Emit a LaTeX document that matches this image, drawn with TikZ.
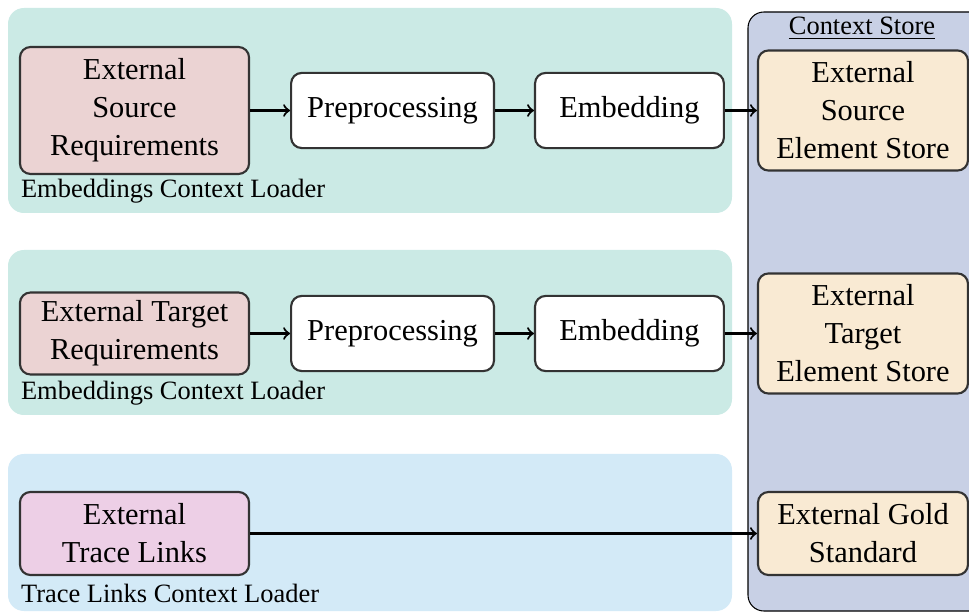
\documentclass[tikz,border=0pt]{standalone}
\usepackage{fontspec}
\setmainfont{Liberation Serif}
\usepackage{tikz}
\usetikzlibrary{positioning}

\definecolor{loaderbg}{HTML}{CBEAE5}
\definecolor{linkbg}{HTML}{D3EAF7}
\definecolor{storebg}{HTML}{C8D0E5}
\definecolor{reqfill}{HTML}{EBD3D3}
\definecolor{tracefill}{HTML}{EDCFE6}
\definecolor{elemfill}{HTML}{F9EAD3}

\tikzset{
  block/.style={draw=black!80, rounded corners=4pt, align=center, inner sep=2pt,
    font=\fontsize{11.5}{14.4}\selectfont},
  req/.style={block, fill=reqfill, minimum width=86.6pt},
  proc/.style={block, fill=white, minimum height=28.4pt},
  elem/.style={block, fill=elemfill, minimum width=79.4pt},
  loader/.style={rounded corners=6pt},
  caption/.style={font=\fontsize{10}{12}\selectfont, anchor=base west, inner sep=0pt}
}

\begin{document}
\begin{tikzpicture}[x=0.378pt,y=-0.378pt,>=to,thick]
  \clip (0,0) rectangle (969,613);

  \fill[loaderbg, loader] (8,8) rectangle (732,213);
  \fill[loaderbg, loader] (8,250) rectangle (732,415);
  \fill[linkbg, loader] (8,454) rectangle (732,611);
  \draw[thin, fill=storebg, rounded corners=6pt] (748,12) rectangle (995,611);

  \node[caption] (srccap) at (20,198) {Embeddings Context Loader};
  \node[caption] (tgtcap) at (20,400) {Embeddings Context Loader};
  \node[caption] (tracecap) at (20,602) {Trace Links Context Loader};
  \node[caption, anchor=base] (storecap) at (862,35) {\underline{Context Store}};

  \node[req, minimum height=48pt] (srcreq) at (134.5,110.5) {External\\Source\\Requirements};
  \node[proc, minimum width=76.7pt, right=15.1pt of srcreq] (srcpre) {Preprocessing};
  \node[proc, minimum width=71.4pt, right=14.7pt of srcpre] (srcemb) {Embedding};
  \node[elem, minimum height=45.4pt] (srcstore) at (863,110.5) {External\\Source\\Element Store};

  \node[req, minimum height=31pt] (tgtreq) at (134.5,333.5) {External Target\\Requirements};
  \node[proc, minimum width=76.7pt, right=15.1pt of tgtreq] (tgtpre) {Preprocessing};
  \node[proc, minimum width=71.4pt, right=14.7pt of tgtpre] (tgtemb) {Embedding};
  \node[elem, minimum height=45.4pt] (tgtstore) at (863,333.5) {External\\Target\\Element Store};

  \node[block, fill=tracefill, minimum width=86.6pt, minimum height=31.4pt] (trace) at (134.5,533.5) {External\\Trace Links};
  \node[elem, minimum height=31.4pt] (gold) at (863,533.5) {External Gold\\Standard};

  \path[->] (srcreq) edge (srcpre)
            (srcpre) edge (srcemb)
            (srcemb) edge (srcstore)
            (tgtreq) edge (tgtpre)
            (tgtpre) edge (tgtemb)
            (tgtemb) edge (tgtstore)
            (trace) edge (gold);
\end{tikzpicture}
\end{document}
